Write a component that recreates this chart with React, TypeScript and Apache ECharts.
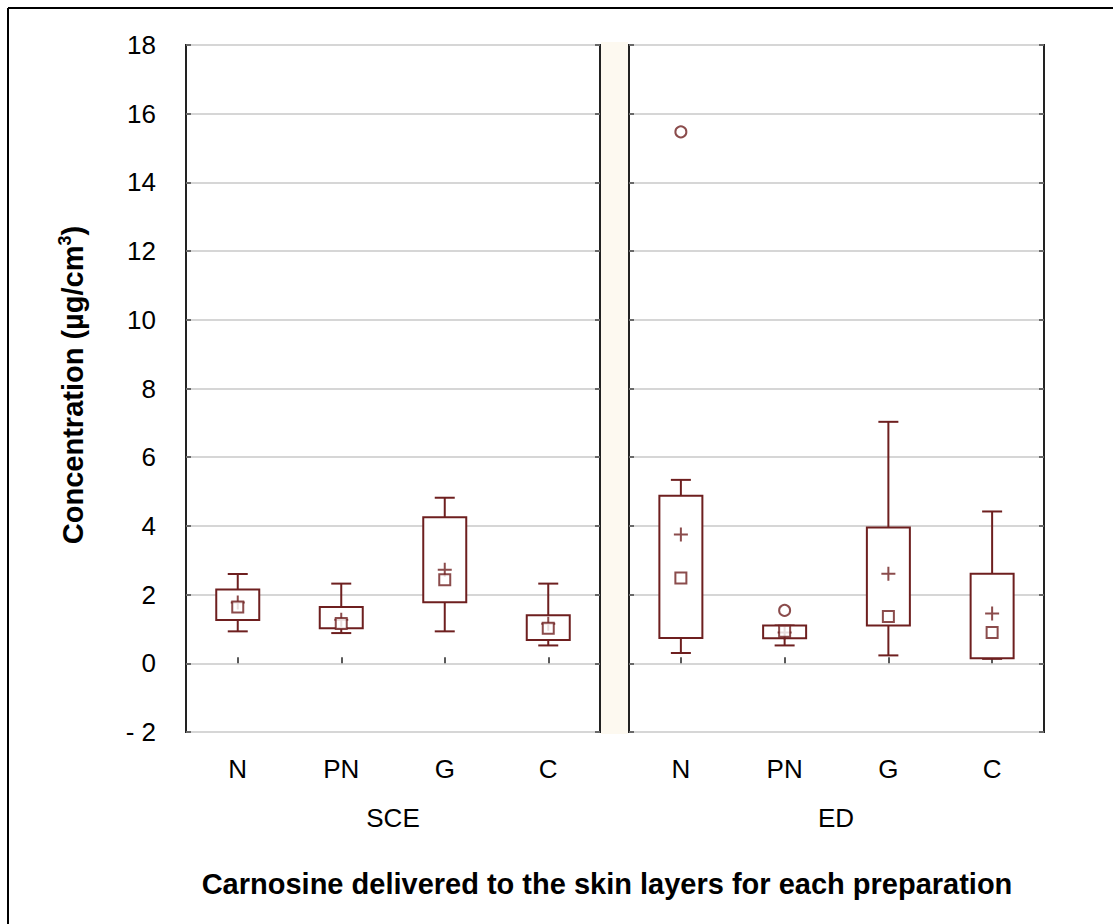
import React, { useEffect, useRef } from "react";
import * as echarts from "echarts";

// Preparations on each skin layer
const categories = ["N", "PN", "G", "C"];
const layers = ["SCE", "ED"];
const yTicks = { min: -2, max: 18, interval: 2 };

// Stratum corneum + epidermis (SCE)
const sceLow = [0.93, 0.88, 0.93, 0.52];
const sceQ1 = [1.26, 1.02, 1.78, 0.68];
const sceQ3 = [2.15, 1.64, 4.25, 1.4];
const sceHigh = [2.6, 2.32, 4.82, 2.32];
const sceMedian = [1.64, 1.16, 2.43, 1.02];
const sceMean = [1.77, 1.27, 2.72, 1.15];

// Dermis (ED)
const edLow = [0.3, 0.52, 0.23, 0.13];
const edQ1 = [0.74, 0.73, 1.1, 0.15];
const edQ3 = [4.88, 1.1, 3.95, 2.61];
const edHigh = [5.34, 1.1, 7.03, 4.42];
const edMedian = [2.48, 0.93, 1.36, 0.9];
const edMean = [3.75, 0.9, 2.61, 1.45];
const edOutliers: [number, number][] = [
  [0, 15.47],
  [1, 1.54],
];

const FONT = "'Liberation Sans', Arial, sans-serif";
const BOX = "#6e1f1f";
const FRAME = "#222";

const boxData = (low: number[], q1: number[], q3: number[], high: number[]) =>
  categories.map((_, i) => [i, low[i], q1[i], q3[i], high[i]]);

const renderBox = (params: any, api: any) => {
  const i = api.value(0);
  const pLow = api.coord([i, api.value(1)]);
  const pQ1 = api.coord([i, api.value(2)]);
  const pQ3 = api.coord([i, api.value(3)]);
  const pHigh = api.coord([i, api.value(4)]);
  const x = pLow[0];
  const hb = 21.5;
  const hc = 10;
  const style = { stroke: BOX, lineWidth: 2, fill: "none" };
  return {
    type: "group",
    children: [
      { type: "line", shape: { x1: x, y1: pHigh[1], x2: x, y2: pQ3[1] }, style },
      { type: "line", shape: { x1: x, y1: pQ1[1], x2: x, y2: pLow[1] }, style },
      { type: "line", shape: { x1: x - hc, y1: pHigh[1], x2: x + hc, y2: pHigh[1] }, style },
      { type: "line", shape: { x1: x - hc, y1: pLow[1], x2: x + hc, y2: pLow[1] }, style },
      {
        type: "rect",
        shape: { x: x - hb, y: pQ3[1], width: hb * 2, height: pQ1[1] - pQ3[1] },
        style: { stroke: BOX, lineWidth: 2, fill: "#fff" },
      },
    ],
  };
};

const PLUS = "path://M0,5L10,5M5,0L5,10";

export default function App() {
  const ref = useRef<HTMLDivElement>(null);

  useEffect(() => {
    if (!ref.current) return;
    const chart = echarts.init(ref.current, undefined, { renderer: "svg" });

    const grids = [
      { left: 186, top: 45, width: 414, height: 687 },
      { left: 629, top: 45, width: 415, height: 687 },
    ].map((g) => ({
      ...g,
      show: true,
      backgroundColor: "#fff",
      borderColor: FRAME,
      borderWidth: 2,
    }));

    const xAxes = grids.map((_, gi) => ({
      type: "category",
      gridIndex: gi,
      data: categories,
      axisLine: { show: false },
      axisTick: {
        show: true,
        inside: true,
        alignWithLabel: true,
        length: 6,
        lineStyle: { color: FRAME, width: 1.5 },
      },
      axisLabel: { color: "#000", fontFamily: FONT, fontSize: 26, margin: 24 },
      splitLine: { show: false },
    }));

    const yBase = {
      type: "value",
      ...yTicks,
      axisLine: { show: false },
      axisTick: { show: true, inside: true, length: 5, lineStyle: { color: "#444", width: 1.5 } },
    };
    const yAxes = [
      {
        ...yBase,
        gridIndex: 0,
        position: "left",
        axisLabel: {
          color: "#000",
          fontFamily: FONT,
          fontSize: 26,
          margin: 30,
          formatter: (v: number) => (v < 0 ? "- " + Math.abs(v) : String(v)),
        },
        splitLine: { show: true, lineStyle: { color: "#d6d6d6", width: 2 } },
      },
      { ...yBase, gridIndex: 0, position: "right", axisLabel: { show: false }, splitLine: { show: false } },
      {
        ...yBase,
        gridIndex: 1,
        position: "left",
        axisLabel: { show: false },
        splitLine: { show: true, lineStyle: { color: "#d6d6d6", width: 2 } },
      },
      { ...yBase, gridIndex: 1, position: "right", axisLabel: { show: false }, splitLine: { show: false } },
    ];

    const panelSeries = (
      gi: number,
      low: number[],
      q1: number[],
      q3: number[],
      high: number[],
      median: number[],
      mean: number[]
    ) => [
      {
        type: "custom",
        xAxisIndex: gi,
        yAxisIndex: gi * 2,
        renderItem: renderBox,
        data: boxData(low, q1, q3, high),
        z: 2,
      },
      {
        type: "scatter",
        xAxisIndex: gi,
        yAxisIndex: gi * 2,
        symbol: PLUS,
        symbolSize: 14,
        itemStyle: { color: "transparent", borderColor: BOX, borderWidth: 2 },
        data: mean.map((v, i) => [i, v]),
        z: 3,
      },
      {
        type: "scatter",
        xAxisIndex: gi,
        yAxisIndex: gi * 2,
        symbol: "emptyRect",
        symbolSize: 11,
        itemStyle: { color: BOX, borderColor: BOX, borderWidth: 2 },
        data: median.map((v, i) => [i, v]),
        z: 4,
      },
    ];

    chart.setOption({
      animation: false,
      backgroundColor: "#fff",
      grid: grids,
      xAxis: xAxes,
      yAxis: yAxes,
      series: [
        ...panelSeries(0, sceLow, sceQ1, sceQ3, sceHigh, sceMedian, sceMean),
        ...panelSeries(1, edLow, edQ1, edQ3, edHigh, edMedian, edMean),
        {
          type: "scatter",
          xAxisIndex: 1,
          yAxisIndex: 2,
          symbol: "emptyCircle",
          symbolSize: 11,
          itemStyle: { color: BOX, borderColor: BOX, borderWidth: 2.5 },
          data: edOutliers,
          z: 4,
        },
      ],
      graphic: [
        // outer frame
        { type: "line", shape: { x1: 8, y1: 8, x2: 1113, y2: 8 }, style: { stroke: "#000", lineWidth: 2 } },
        { type: "line", shape: { x1: 8, y1: 8, x2: 8, y2: 924 }, style: { stroke: "#000", lineWidth: 2 } },
        // strip between the panels
        {
          type: "rect",
          shape: { x: 601, y: 42, width: 27, height: 692 },
          style: { fill: "#fdf9f0" },
          z: -1,
        },
        {
          type: "text",
          x: 393,
          y: 818,
          style: { text: layers[0], font: `26px ${FONT}`, fill: "#000", align: "center", verticalAlign: "middle" },
        },
        {
          type: "text",
          x: 836,
          y: 818,
          style: { text: layers[1], font: `26px ${FONT}`, fill: "#000", align: "center", verticalAlign: "middle" },
        },
        {
          type: "text",
          x: 607,
          y: 884,
          style: {
            text: "Carnosine delivered to the skin layers for each preparation",
            font: `bold 29px ${FONT}`,
            fill: "#000",
            align: "center",
            verticalAlign: "middle",
          },
        },
        {
          type: "text",
          x: 73,
          y: 385,
          rotation: Math.PI / 2,
          style: {
            text: "Concentration (µg/cm{sup|3})",
            font: `bold 29px ${FONT}`,
            fill: "#000",
            align: "center",
            verticalAlign: "middle",
            lineHeight: 34,
            rich: {
              sup: {
                fontFamily: FONT,
                fontWeight: "bold",
                fontSize: 18,
                verticalAlign: "top",
                lineHeight: 34,
                fill: "#000",
              },
            },
          },
        },
      ],
    });

    return () => chart.dispose();
  }, []);

  return (
    <div
      ref={ref}
      style={{ position: "absolute", left: 0, top: 0, width: 1113, height: 924, background: "#fff" }}
    />
  );
}
